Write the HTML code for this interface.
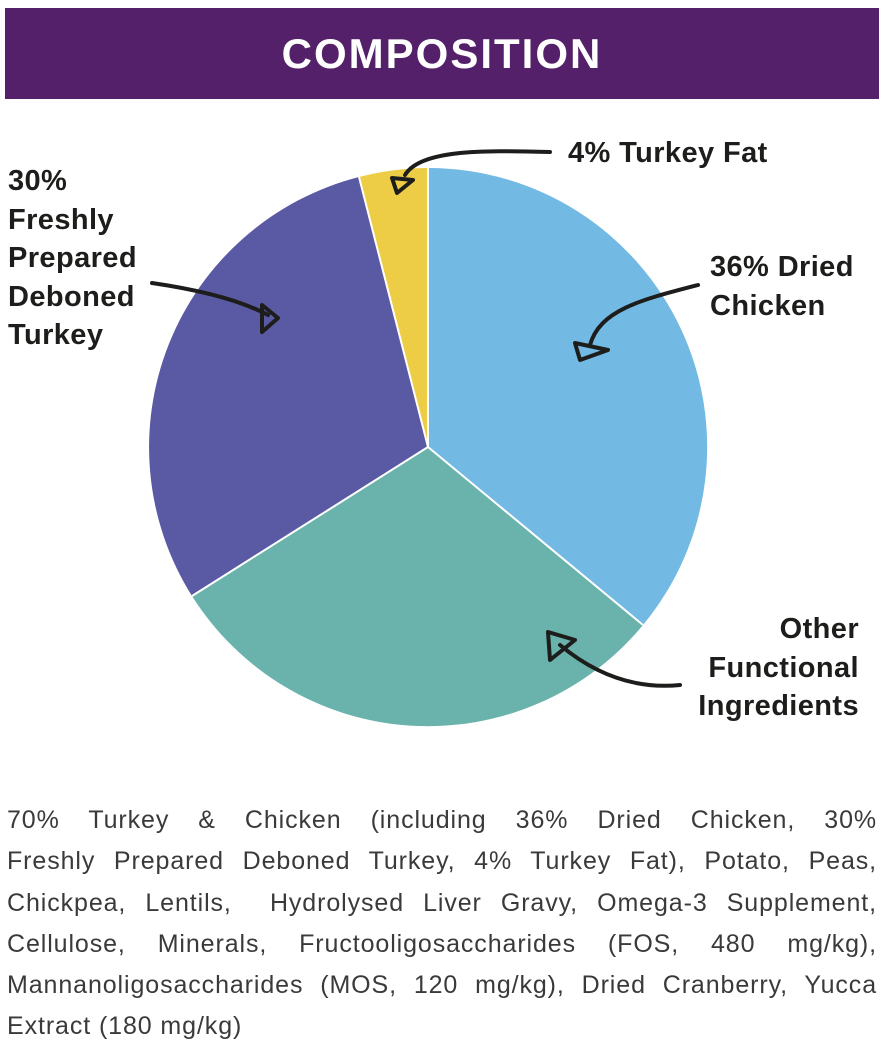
<!DOCTYPE html>
<html><head><style>
body{margin:0;width:885px;height:1062px;background:#fff;position:relative;overflow:hidden;font-family:"Liberation Sans",sans-serif}
.hdr{position:absolute;left:5px;top:8px;width:874px;height:91px;background:#55206a;color:#fff;font-weight:bold;font-size:42px;text-align:center;line-height:91px;letter-spacing:2px}
.lbl{position:absolute;font-weight:bold;font-size:29px;color:#1d1d1b;line-height:38.5px;letter-spacing:0.4px}
.txt{position:absolute;left:7px;top:800px;width:870px;font-size:25px;line-height:41.3px;color:#3a3a3a;letter-spacing:0.9px}
.txt div{text-align:justify;text-align-last:justify;height:41.3px;white-space:nowrap;overflow:visible}
.txt div.l{text-align-last:left}
</style></head><body>
<div class="hdr">COMPOSITION</div>
<svg width="885" height="1062" style="position:absolute;left:0;top:0">
<path d="M428,447 L428,168 A279,279 0 0 1 643,625 Z" fill="#72b9e4"/>
<path d="M428,447 L643,625 A279,279 0 0 1 192,596 Z" fill="#6ab3ac"/>
<path d="M428,447 L192,596 A279,279 0 0 1 359,177 Z" fill="#5a59a3"/>
<path d="M428,447 L359,177 A279,279 0 0 1 428,168 Z" fill="#edcc46"/>
<g stroke="#fff" stroke-width="2"><line x1="428" y1="447" x2="643" y2="625"/><line x1="428" y1="447" x2="192" y2="596"/><line x1="428" y1="447" x2="359" y2="177"/><line x1="428" y1="447" x2="428" y2="168"/></g>
<g fill="none" stroke="#1d1d1b" stroke-width="4" stroke-linecap="round" stroke-linejoin="round">
<path d="M698,285 C640,300 600,310 590,345"/><path d="M575,343 L608,350 L580,360 Z"/>
<path d="M550,152 C480,150 420,150 405,175"/><path d="M392,178 L413,180 L397,193 Z"/>
<path d="M152,283 C200,290 240,300 268,315"/><path d="M262,305 L278,318 L262,332 Z"/>
<path d="M680,685 C630,690 590,670 560,645"/><path d="M550,660 L548,632 L575,640 Z"/>
</g>
</svg>
<div class="lbl" style="left:568px;top:134px">4% Turkey Fat</div>
<div class="lbl" style="left:710px;top:248px">36% Dried<br>Chicken</div>
<div class="lbl" style="left:8px;top:162px">30%<br>Freshly<br>Prepared<br>Deboned<br>Turkey</div>
<div class="lbl" style="left:620px;top:610px;width:239px;text-align:right">Other<br>Functional<br>Ingredients</div>
<div class="txt">
<div>70% Turkey &amp; Chicken (including 36% Dried Chicken, 30%</div>
<div>Freshly Prepared Deboned Turkey, 4% Turkey Fat), Potato, Peas,</div>
<div>Chickpea, Lentils, &nbsp;Hydrolysed Liver Gravy, Omega-3 Supplement,</div>
<div>Cellulose, Minerals, Fructooligosaccharides (FOS, 480 mg/kg),</div>
<div>Mannanoligosaccharides (MOS, 120 mg/kg), Dried Cranberry, Yucca</div>
<div class="l">Extract (180 mg/kg)</div>
</div>
</body></html>
